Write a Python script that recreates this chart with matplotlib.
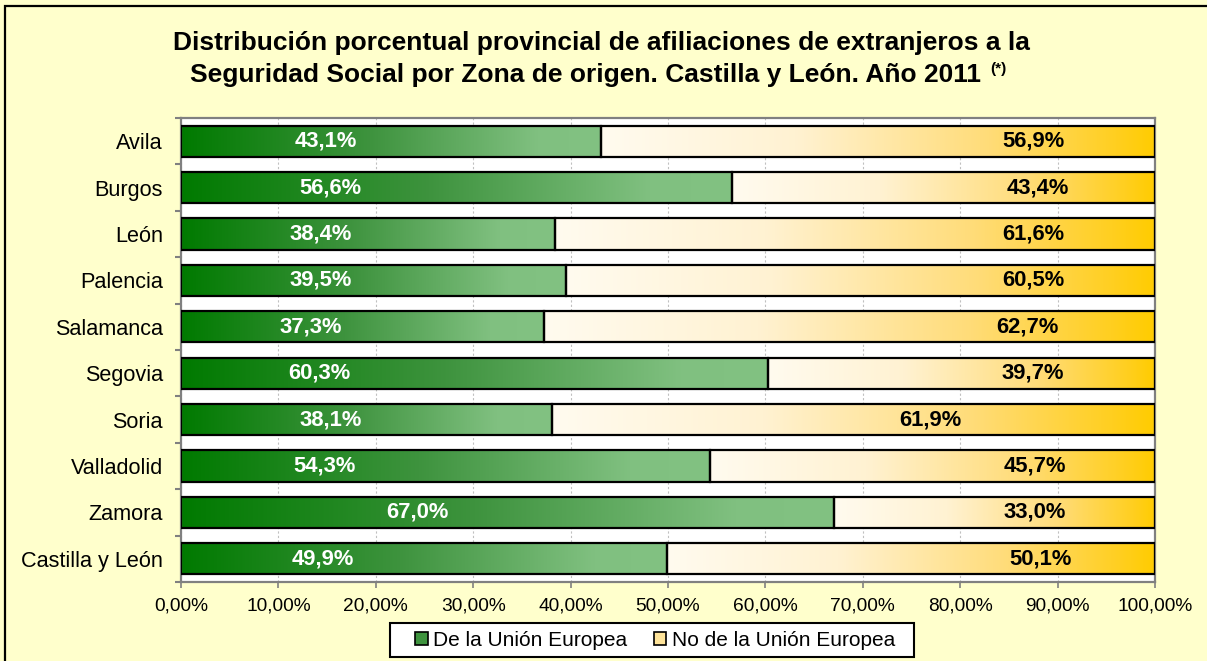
import matplotlib
matplotlib.use('Agg')
import matplotlib.pyplot as plt
import numpy as np
from matplotlib.colors import LinearSegmentedColormap
from matplotlib.patches import Rectangle

plt.rcParams['font.family'] = ['Liberation Sans', 'DejaVu Sans']

# datos
provincias = ['Avila', 'Burgos', 'León', 'Palencia', 'Salamanca', 'Segovia',
              'Soria', 'Valladolid', 'Zamora', 'Castilla y León']
ue = [43.1, 56.6, 38.4, 39.5, 37.3, 60.3, 38.1, 54.3, 67.0, 49.9]
no_ue = [56.9, 43.4, 61.6, 60.5, 62.7, 39.7, 61.9, 45.7, 33.0, 50.1]
series = ['De la Unión Europea', 'No de la Unión Europea']

# donde van las etiquetas (en % del eje), como en el original
pos_etiq_ue = [14.9, 15.3, 14.3, 14.3, 13.3, 14.2, 15.4, 14.7, 24.3, 14.6]
pos_etiq_no = [87.5, 88.0, 87.5, 87.5, 86.9, 87.5, 76.9, 87.7, 87.7, 88.2]

fondo = '#FFFFCC'
gris = '#808080'
cmap_verde = LinearSegmentedColormap.from_list(
    'verde', [(0, '#007A00'), (0.45, '#3E933E'), (0.85, '#80C080'), (1, '#82C282')])
cmap_amar = LinearSegmentedColormap.from_list(
    'amar', [(0, '#FFFBEF'), (0.35, '#FFF2D2'), (0.7, '#FFDC78'), (0.93, '#FFCF20'), (1, '#FFCC00')])

fig = plt.figure(figsize=(12.07, 6.61), dpi=100)
fig.patch.set_facecolor(fondo)
W, H = 1207, 661
fig.patches.append(Rectangle((5 / W, -0.1), 1.2, 1 - 6 / H + 0.1, transform=fig.transFigure,
                             fill=False, edgecolor='black', linewidth=1.6, zorder=0))

ax = fig.add_axes([181 / W, 1 - 582 / H, (1155 - 181) / W, (582 - 118) / H])
ax.set_facecolor('white')

y = np.arange(len(provincias))
bars_ue = ax.barh(y, ue, height=0.67, fill=False, edgecolor='black', linewidth=1.6, zorder=3)
bars_no = ax.barh(y, no_ue, left=ue, height=0.67, fill=False, edgecolor='black', linewidth=1.6, zorder=3)

grad = np.linspace(0, 1, 256).reshape(1, -1)
for bars, cm in ((bars_ue, cmap_verde), (bars_no, cmap_amar)):
    for b in bars:
        x0, y0, w, h = b.get_x(), b.get_y(), b.get_width(), b.get_height()
        im = ax.imshow(grad, cmap=cm, extent=[x0, x0 + w, y0, y0 + h], aspect='auto',
                       origin='lower', zorder=2, interpolation='bilinear')
        im.set_clip_path(b)

for i in range(len(provincias)):
    ax.text(pos_etiq_ue[i], y[i], f'{ue[i]:.1f}%'.replace('.', ','), color='white',
            fontsize=15.8, fontweight='bold', ha='center', va='center', zorder=4)
    ax.text(pos_etiq_no[i], y[i], f'{no_ue[i]:.1f}%'.replace('.', ','), color='black',
            fontsize=15.8, fontweight='bold', ha='center', va='center', zorder=4)

ax.set_xlim(0, 100)
ax.set_ylim(len(provincias) - 0.5, -0.5)
ax.set_xticks(np.arange(0, 101, 10))
ax.set_xticklabels([f'{v:.2f}%'.replace('.', ',') for v in np.arange(0, 101, 10)], fontsize=13.8)
ax.set_yticks(y)
ax.set_yticklabels(provincias, fontsize=15.6)
ax.set_yticks(np.arange(-0.5, len(provincias)), minor=True)
ax.tick_params(axis='y', which='major', length=0, pad=13)
ax.tick_params(axis='y', which='minor', length=4, color=gris, width=1.5, direction='out')
ax.tick_params(axis='x', length=4, color=gris, width=1.2, pad=7)
ax.grid(axis='x', color='#C0C0C0', linestyle=(0, (2, 2)), linewidth=0.8, zorder=0)
ax.set_axisbelow(True)
for s in ax.spines.values():
    s.set_color(gris)
    s.set_linewidth(1.6)

# titulo
fig.text(601 / W, 1 - 50 / H, 'Distribución porcentual provincial de afiliaciones de extranjeros a la',
         ha='center', va='baseline', fontsize=19, fontweight='bold')
t2 = fig.text(586 / W, 1 - 82 / H, 'Seguridad Social por Zona de origen. Castilla y León. Año 2011',
              ha='center', va='baseline', fontsize=19, fontweight='bold')
fig.canvas.draw()
bb = t2.get_window_extent()
fig.text((bb.x1 + 9) / W, 1 - 73 / H, '(*)', ha='left', va='baseline', fontsize=11, fontweight='bold')

# leyenda: marco dibujado aparte para igualar el tamaño del original
fig.patches.append(Rectangle((390 / W, 1 - 657 / H), 524 / W, 34 / H, transform=fig.transFigure,
                             facecolor='white', edgecolor='black', linewidth=1.5, zorder=1))
handles = [Rectangle((0, 0), 1, 1, facecolor='#3E933E', edgecolor='black', linewidth=1.2),
           Rectangle((0, 0), 1, 1, facecolor='#FFE49A', edgecolor='black', linewidth=1.2)]
leg = fig.legend(handles, series, loc='center', bbox_to_anchor=(655 / W, 1 - 640 / H), ncol=2,
                 fontsize=15, frameon=False, handlelength=0.6, handleheight=0.6,
                 handletextpad=0.25, columnspacing=1.3, borderpad=0.2)
leg.set_zorder(2)

fig.savefig('out.png', dpi=100, facecolor=fondo)
